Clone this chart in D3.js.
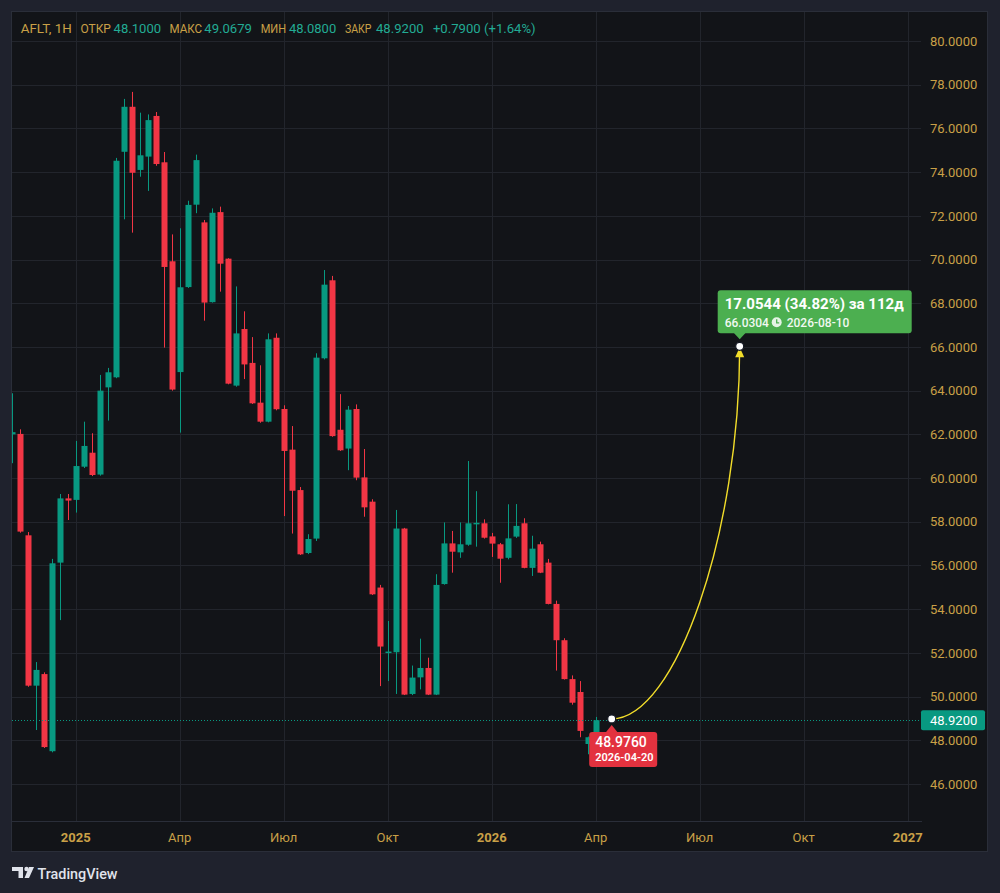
<!DOCTYPE html>
<html><head><meta charset="utf-8">
<script src="https://cdn.jsdelivr.net/npm/d3@7"></script>
<style>
html,body{margin:0;padding:0;background:#1f222d;}
svg{display:block;font-family:Roboto,"Noto Sans",sans-serif;}
</style></head><body>
<svg id="chart" width="1000" height="893"></svg>
<script>
// ---------- DATA ----------
const dates = [
"2024-11-11","2024-11-18","2024-11-25","2024-12-02","2024-12-09","2024-12-16","2024-12-23","2024-12-30",
"2025-01-06","2025-01-13","2025-01-20","2025-01-27","2025-02-03","2025-02-10","2025-02-17","2025-02-24",
"2025-03-03","2025-03-10","2025-03-17","2025-03-24","2025-03-31","2025-04-07","2025-04-14","2025-04-21",
"2025-04-28","2025-05-05","2025-05-12","2025-05-19","2025-05-26","2025-06-02","2025-06-09","2025-06-16",
"2025-06-23","2025-06-30","2025-07-07","2025-07-14","2025-07-21","2025-07-28","2025-08-04","2025-08-11",
"2025-08-18","2025-08-25","2025-09-01","2025-09-08","2025-09-15","2025-09-22","2025-09-29","2025-10-06",
"2025-10-13","2025-10-20","2025-10-27","2025-11-03","2025-11-10","2025-11-17","2025-11-24","2025-12-01",
"2025-12-08","2025-12-15","2025-12-22","2025-12-29","2026-01-05","2026-01-12","2026-01-19","2026-01-26",
"2026-02-02","2026-02-09","2026-02-16","2026-02-23","2026-03-02","2026-03-09","2026-03-16","2026-03-23",
"2026-03-30","2026-04-06"];
const opens = [62.0,62.02,57.38,50.5,51.03,47.5,56.13,59.07,59.0,60.52,61.16,60.16,64.15,64.61,74.93,76.99,
74.1,74.71,76.57,74.45,69.92,64.85,68.74,72.51,71.7,68.05,72.17,70.04,64.23,66.82,65.27,63.45,
62.58,66.42,63.16,61.3,59.45,56.57,57.23,65.48,69.05,62.21,61.35,63.16,60.03,58.92,54.99,52.0,
52.03,57.69,50.12,50.88,51.31,50.09,55.15,57.01,56.6,56.95,57.9,57.93,57.33,56.97,56.35,57.32,
57.93,55.89,56.97,56.13,54.24,52.58,50.8,50.21,47.83,48.10];
const highs = [63.88,62.23,57.53,51.58,51.11,56.3,59.27,59.27,61.7,62.58,62.05,64.72,65.04,74.65,77.35,77.67,
76.72,76.64,76.75,74.92,71.15,71.43,72.69,74.8,71.81,72.34,72.42,70.06,68.77,67.63,66.45,65.16,
66.62,66.62,63.33,62.38,59.59,57.43,65.71,69.52,69.25,63.84,63.3,63.37,61.33,59.03,55.11,53.46,
58.54,57.72,51.42,52.65,51.78,55.6,57.97,57.58,57.97,60.78,59.4,58.11,57.49,57.03,58.8,58.81,
58.16,57.36,57.09,56.3,54.39,52.67,50.97,50.71,48.17,49.0679];
const lows = [60.68,57.5,50.45,48.47,47.65,47.45,53.5,58.08,58.42,60.46,60.09,60.11,62.63,64.57,71.84,71.23,
73.79,73.14,74.29,65.97,64.0,62.08,68.7,72.12,67.2,68.03,68.53,64.29,64.18,64.53,63.39,62.53,
62.55,63.1,58.26,57.46,56.48,56.52,57.12,65.43,61.89,61.24,60.36,59.9,58.23,54.65,50.48,50.71,
50.12,50.07,50.07,50.33,50.07,50.07,55.12,55.67,56.35,56.9,56.86,57.23,56.39,55.21,56.28,57.26,
55.87,55.52,55.65,54.22,51.19,50.78,49.63,48.14,47.36,48.08];
const closes = [62.1,57.55,50.5,51.22,47.69,56.1,59.07,58.97,60.55,61.47,60.14,64.0,64.84,74.52,76.99,73.97,
74.77,76.38,74.37,69.66,64.05,68.73,72.5,74.55,68.03,72.14,69.81,64.32,66.62,65.2,63.42,62.58,
66.35,63.15,61.24,59.42,56.51,57.21,65.51,68.85,61.92,61.27,63.13,60.02,58.66,54.68,52.29,52.06,
57.69,50.09,50.87,51.31,50.09,55.11,57.01,56.63,56.97,57.93,57.95,57.27,57.0,56.31,57.24,57.81,
55.89,56.77,55.67,54.24,52.58,50.8,49.72,48.43,48.14,48.92];

const yTicks = [46,48,50,52,54,56,58,60,62,64,66,68,70,72,74,76,78,80];
const xTickDates = ["2025-01-06","2025-04-07","2025-07-07","2025-10-06","2026-01-05","2026-04-06","2026-07-06","2026-10-05","2027-01-04"];
const xTickLabels = ["2025","Апр","Июл","Окт","2026","Апр","Июл","Окт","2027"];
const xTickBold = [true,false,false,false,true,false,false,false,true];

const lastPrice = 48.92;
const projDates = ["2026-04-20","2026-08-10"];
const projPrices = [48.976, 66.0304];
const projMainLabel = "17.0544 (34.82%) за 112д";
const projTargetLabel = "66.0304";

// header groups: [key, keyX, keyWidth, value, valueX, valueWidth]
const headerGroups = [
  ["AFLT, 1Н",20.7,51,"",0,0],
  ["ОТКР",80.4,30.5,"48.1000",113.6,47.5],
  ["МАКС",169.6,32.5,"49.0679",204.3,47.7],
  ["МИН",260.7,25.5,"48.0800",289,47.2],
  ["ЗАКР",345,26.5,"48.9200",376,47.6],
  ["",0,0,"+0.7900 (+1.64%)",432.9,102.8]];

// ---------- STYLE ----------
const UP = "#089981", DOWN = "#f23645", GOLD = "#c9a047", TEAL = "#22ab94";
const GRID = "#22252c", PLOTBG = "#121418";

const parse = d3.utcParse("%Y-%m-%d");
const svg = d3.select("#chart");

// panel
svg.append("rect").attr("x",0).attr("y",0).attr("width",1000).attr("height",893).attr("fill","#1f222d");
svg.append("rect").attr("x",11.5).attr("y",11.5).attr("width",976).attr("height",840)
  .attr("fill",PLOTBG).attr("stroke","#2a2e39");

const plot = {left:12, right:921, top:12, bottom:821};

const x = d3.scaleUtc().domain([parse(dates[0]), parse(dates[dates.length-1])]).range([11.7, 595.7]);
const y = d3.scaleLinear().domain([46,80]).range([784,41]);

svg.append("defs").append("clipPath").attr("id","clip").append("rect")
  .attr("x",plot.left).attr("y",plot.top).attr("width",plot.right-plot.left).attr("height",plot.bottom-plot.top);

// grid
const grid = svg.append("g").attr("clip-path","url(#clip)");
grid.selectAll(".hg").data(yTicks).enter().append("line")
  .attr("x1",plot.left).attr("x2",plot.right)
  .attr("y1",d=>Math.round(y(d))+0.5).attr("y2",d=>Math.round(y(d))+0.5)
  .attr("stroke",GRID);
grid.selectAll(".vg").data(xTickDates).enter().append("line")
  .attr("x1",d=>Math.round(x(parse(d)))+0.5).attr("x2",d=>Math.round(x(parse(d)))+0.5)
  .attr("y1",plot.top).attr("y2",plot.bottom)
  .attr("stroke",GRID);

// x axis separator
svg.append("line").attr("x1",11.5).attr("x2",922).attr("y1",821.5).attr("y2",821.5).attr("stroke","#2a2e39");

// candles
const candles = dates.map((d,i)=>({date:parse(d),o:opens[i],h:highs[i],l:lows[i],c:closes[i]}));
const cg = svg.append("g").attr("clip-path","url(#clip)");
const cs = cg.selectAll(".c").data(candles).enter().append("g");
cs.append("line")
  .attr("x1",d=>Math.round(x(d.date))+0.5).attr("x2",d=>Math.round(x(d.date))+0.5)
  .attr("y1",d=>y(d.h)).attr("y2",d=>y(d.l))
  .attr("stroke",d=>d.c>=d.o?UP:DOWN).attr("stroke-width",1);
cs.append("rect")
  .attr("x",d=>Math.round(x(d.date))-2.5).attr("width",6)
  .attr("y",d=>y(Math.max(d.o,d.c)))
  .attr("height",d=>Math.max(1.5,Math.abs(y(d.o)-y(d.c))))
  .attr("fill",d=>d.c>=d.o?UP:DOWN);

// last price dotted line
svg.append("line").attr("x1",plot.left).attr("x2",plot.right)
  .attr("y1",Math.round(y(lastPrice))+0.5).attr("y2",Math.round(y(lastPrice))+0.5)
  .attr("stroke",UP).attr("stroke-dasharray","1,2");

// y axis labels
svg.selectAll(".yl").data(yTicks).enter().append("text")
  .attr("x",930).attr("y",d=>y(d)).attr("dy","0.36em")
  .attr("fill",GOLD).attr("font-size",13).text(d=>d3.format(".4f")(d));

// last price label
svg.append("rect").attr("x",921).attr("y",y(lastPrice)-10).attr("width",64).attr("height",20)
  .attr("rx",2).attr("fill",UP);
svg.append("text").attr("x",930).attr("y",y(lastPrice)).attr("dy","0.36em")
  .attr("fill","#ffffff").attr("font-size",13).text(d3.format(".4f")(lastPrice));

// x axis labels
svg.selectAll(".xl").data(xTickDates).enter().append("text")
  .attr("x",d=>x(parse(d))).attr("y",837).attr("dy","0.36em")
  .attr("text-anchor","middle").attr("fill",GOLD).attr("font-size",13)
  .attr("font-weight",(d,i)=>xTickBold[i]?"bold":"normal")
  .text((d,i)=>xTickLabels[i]);

// header legend (one text per group, key + value as tspans)
headerGroups.forEach(g=>{
  const t = svg.append("text").attr("y",28).attr("dy","0.36em").attr("font-size",13.5);
  if (g[0]) t.append("tspan").attr("x",g[1]).attr("fill",GOLD)
    .attr("textLength",g[2]).attr("lengthAdjust","spacingAndGlyphs").text(g[0]);
  if (g[3]) t.append("tspan").attr("x",g[4]).attr("fill",TEAL)
    .attr("textLength",g[5]).attr("lengthAdjust","spacingAndGlyphs").text(g[3]);
});

// projection curve
const x0 = x(parse(projDates[0])), y0 = y(projPrices[0]);
const x1 = x(parse(projDates[1])), y1 = y(projPrices[1]);
const p = d3.path();
p.moveTo(x0,y0);
p.bezierCurveTo(x0+(x1-x0)*0.5, y0, x1, y0-(y0-y1)*0.5, x1, y1);
svg.append("path").attr("d",p.toString()).attr("fill","none").attr("stroke","#f2dd2a").attr("stroke-width",1.4);
svg.append("path").attr("d",`M${x1},${y1+1}L${x1-4.5},${y1+11}L${x1+4.5},${y1+11}Z`).attr("fill","#f2dd2a");
[[x0,y0],[x1,y1]].forEach(([cx,cy])=>{
  svg.append("circle").attr("cx",cx).attr("cy",cy).attr("r",4).attr("fill","#ffffff").attr("stroke","#131722").attr("stroke-width",1.2);
});

// green target label
const gl = svg.append("g");
gl.append("rect").attr("x",x1-22).attr("y",y1-56).attr("width",194).attr("height",43).attr("rx",3).attr("fill","#4caf50");
gl.append("path").attr("d",`M${x1-6},${y1-13.5}L${x1+6},${y1-13.5}L${x1},${y1-7}Z`).attr("fill","#4caf50");
gl.append("text").attr("x",x1-15).attr("y",y1-42.5).attr("dy","0.36em").attr("fill","#ffffff")
  .attr("font-size",14.5).attr("font-weight","bold")
  .attr("textLength",179).attr("lengthAdjust","spacingAndGlyphs").text(projMainLabel);
gl.append("text").attr("x",x1-15).attr("y",y1-24).attr("dy","0.36em").attr("fill","#ffffff")
  .attr("font-size",12).attr("font-weight",500).attr("opacity",0.92).text(projTargetLabel);
const ck = gl.append("g").attr("transform",`translate(${x1+37},${y1-24})`);
ck.append("circle").attr("r",5).attr("fill","#ffffff").attr("opacity",0.85);
ck.append("path").attr("d","M0,-3V0.5H2.5").attr("stroke","#4caf50").attr("stroke-width",1.3).attr("fill","none");
gl.append("text").attr("x",x1+47).attr("y",y1-24).attr("dy","0.36em").attr("fill","#ffffff")
  .attr("font-size",12).attr("font-weight",500).attr("opacity",0.92).text(projDates[1]);

// red start label
const rl = svg.append("g");
rl.append("rect").attr("x",x0-22.5).attr("y",y0+13).attr("width",68).attr("height",35).attr("rx",3).attr("fill","#e3323f");
rl.append("path").attr("d",`M${x0-6},${y0+13.5}L${x0+6},${y0+13.5}L${x0},${y0+6}Z`).attr("fill","#e3323f");
rl.append("text").attr("x",x0-16.5).attr("y",y0+23).attr("dy","0.36em").attr("fill","#ffffff")
  .attr("font-size",14).attr("font-weight",500).text(d3.format(".4f")(projPrices[0]));
rl.append("text").attr("x",x0-16.5).attr("y",y0+38.5).attr("dy","0.36em").attr("fill","#ffffff")
  .attr("font-size",11).attr("font-weight",600).text(projDates[0]);

// TradingView logo
const lg = svg.append("g").attr("fill","#e0e3eb");
lg.append("path").attr("d","M12,867H23V878H18.5V871H12Z");
lg.append("circle").attr("cx",26.5).attr("cy",869).attr("r",2.2);
lg.append("path").attr("d","M29,867H34L29,878H24.5Z");
lg.append("text").attr("x",37.5).attr("y",873).attr("dy","0.36em").attr("font-size",15.5)
  .attr("font-weight",500).attr("textLength",80).attr("lengthAdjust","spacingAndGlyphs").text("TradingView");
</script>
</body></html>
